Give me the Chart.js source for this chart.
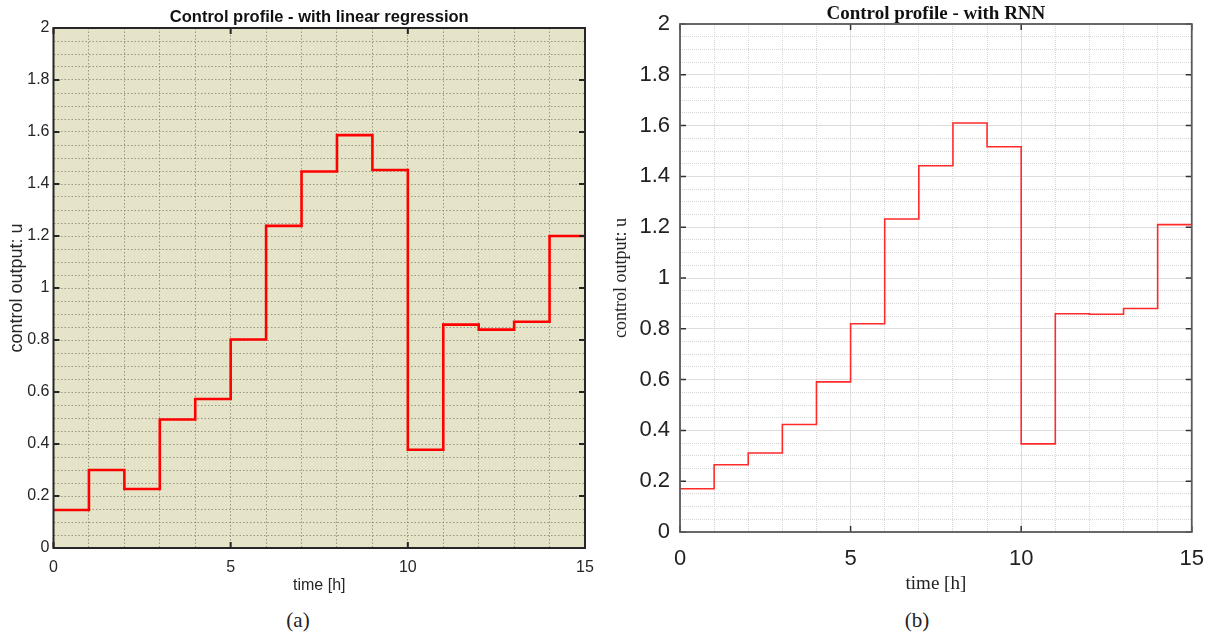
<!DOCTYPE html>
<html><head><meta charset="utf-8">
<script src="https://cdn.jsdelivr.net/npm/chart.js@4.4.1/dist/chart.umd.min.js"></script>
<style>
html,body{margin:0;padding:0;background:#fff;width:1218px;height:633px;overflow:hidden;}
canvas{position:absolute;top:0;}
#c1{left:0;} #c2{left:610px;}
.cap{position:absolute;font-family:'Liberation Serif','Times New Roman',serif;font-size:21px;color:#222;transform:translate(-50%,-50%);white-space:nowrap;}
</style></head><body>
<canvas id="c1" width="608" height="605"></canvas>
<canvas id="c2" width="608" height="605"></canvas>
<div class="cap" style="left:298px;top:620px">(a)</div>
<div class="cap" style="left:917px;top:620px">(b)</div>
<script>
// ---- data ----
const hours = [0,1,2,3,4,5,6,7,8,9,10,11,12,13,14,15];
const uLinearRegression = [0.146,0.300,0.227,0.494,0.573,0.802,1.239,1.448,1.588,1.454,0.378,0.859,0.840,0.870,1.200];
const uRNN = [0.170,0.265,0.311,0.423,0.591,0.820,1.232,1.442,1.610,1.517,0.347,0.859,0.857,0.880,1.210];
const xTickLabels = [0,5,10,15];
const yTickLabels = [0,0.2,0.4,0.6,0.8,1,1.2,1.4,1.6,1.8,2];
const titles = ['Control profile - with linear regression','Control profile - with RNN'];
const xTitle = 'time [h]';
const yTitle = 'control output: u';

function stepData(vals){
  return hours.map((h,i)=>({x:h, y: vals[Math.min(i, vals.length-1)]}));
}
function isIn(arr, v){ return arr.some(a=>Math.abs(a-v)<1e-6); }
function fmt(v){ return String(Math.round(v*10)/10); }

const framePlugin = {
  id:'frame',
  beforeDraw(chart, args, o){
    if(o.bg){
      const a = chart.chartArea, ctx = chart.ctx;
      ctx.save(); ctx.fillStyle = o.bg; ctx.fillRect(a.left,a.top,a.right-a.left,a.bottom-a.top); ctx.restore();
    }
  },
  afterDraw(chart, args, o){
    const a = chart.chartArea, ctx = chart.ctx;
    const xs = chart.scales.x, ys = chart.scales.y;
    ctx.save();
    ctx.strokeStyle = o.tickColor; ctx.lineWidth = o.tickWidth;
    ctx.beginPath();
    yTickLabels.forEach(v=>{
      const y = ys.getPixelForValue(v);
      ctx.moveTo(a.left, y); ctx.lineTo(a.left+o.tickLen, y);
      ctx.moveTo(a.right, y); ctx.lineTo(a.right-o.tickLen, y);
    });
    xTickLabels.forEach(v=>{
      const x = xs.getPixelForValue(v);
      ctx.moveTo(x, a.bottom); ctx.lineTo(x, a.bottom-o.tickLen);
      ctx.moveTo(x, a.top); ctx.lineTo(x, a.top+o.tickLen);
    });
    ctx.stroke();
    ctx.strokeStyle = o.frameColor; ctx.lineWidth = o.frameWidth;
    ctx.strokeRect(a.left, a.top, a.right-a.left, a.bottom-a.top);
    ctx.fillStyle = o.titleColor; ctx.font = o.titleFont;
    ctx.textAlign = 'center'; ctx.textBaseline = 'middle';
    ctx.fillText(o.title, (a.left+a.right)/2, o.titleY);
    ctx.restore();
  }
};

function makeChart(id, vals, s){
  return new Chart(document.getElementById(id), {
    type:'line',
    data:{ datasets:[{ data: stepData(vals), stepped:'before', borderColor:s.lineColor, borderWidth:s.lineWidth, pointRadius:0, fill:false, tension:0 }]},
    options:{
      responsive:false, animation:false, devicePixelRatio:1,
      layout:{ padding:s.pad },
      plugins:{ legend:{display:false}, tooltip:{enabled:false}, frame:s.frame },
      scales:{
        x:{ type:'linear', min:0, max:15,
            afterFit(sc){ sc.height = s.xHeight; },
            ticks:{ stepSize:1, autoSkip:false, maxRotation:0, padding:s.xTickPad, color:s.tickColor, font:s.tickFont,
                    callback:(v)=> isIn(xTickLabels, v) ? fmt(v) : '' },
            grid:{ drawTicks:false, lineWidth:1, color:(c)=> s.gridColor(c, xTickLabels) },
            border:{ display:false, dash:(c)=> s.gridDash(c, xTickLabels) },
            title:{ display:true, text:xTitle, color:s.tickColor, font:s.xTitleFont, padding:{top:0,bottom:s.xTitlePadB} } },
        y:{ type:'linear', min:0, max:2,
            afterFit(sc){ sc.width = s.yWidth; },
            ticks:{ stepSize:0.05, autoSkip:false, padding:s.yTickPad, color:s.tickColor, font:s.tickFont,
                    callback:(v)=> isIn(yTickLabels, v) ? fmt(v) : '' },
            grid:{ drawTicks:false, lineWidth:1, color:(c)=> s.gridColor(c, yTickLabels) },
            border:{ display:false, dash:(c)=> s.gridDash(c, yTickLabels) },
            title:{ display:true, text:yTitle, color:s.tickColor, font:s.yTitleFont, padding:{top:s.yTitlePadT,bottom:0} } }
      }
    },
    plugins:[framePlugin]
  });
}

const sans = "'Liberation Sans', Arial, sans-serif";
const serif = "'Liberation Serif', 'Times New Roman', serif";

makeChart('c1', uLinearRegression, {
  lineColor:'#ff0000', lineWidth:2.6,
  pad:{left:0,right:23,top:28,bottom:0}, xHeight:57, yWidth:53.5,
  xTickPad:10, yTickPad:4, tickColor:'#262626', tickFont:{family:sans,size:16},
  xTitleFont:{family:sans,size:16}, xTitlePadB:10, yTitleFont:{family:sans,size:18}, yTitlePadT:6,
  gridColor:()=> 'rgba(125,125,110,0.75)',
  gridDash:()=> [1.5,2],
  frame:{ bg:'#e5e3c8', tickColor:'#262626', tickWidth:2, tickLen:6, frameColor:'#262626', frameWidth:2,
          title:titles[0], titleFont:"bold 16.5px "+sans, titleColor:'#111', titleY:17 }
});

makeChart('c2', uRNN, {
  lineColor:'#ff2a2a', lineWidth:1.6,
  pad:{left:0,right:24,top:24,bottom:0}, xHeight:73, yWidth:70,
  xTickPad:14, yTickPad:10, tickColor:'#222', tickFont:{family:sans,size:22},
  xTitleFont:{family:serif,size:19}, xTitlePadB:10, yTitleFont:{family:serif,size:18}, yTitlePadT:0,
  gridColor:(c, majors)=> (c.tick && isIn(majors, c.tick.value)) ? '#dedede' : '#d6d6d6',
  gridDash:(c, majors)=> (c.tick && isIn(majors, c.tick.value)) ? [] : [1,1],
  frame:{ bg:null, tickColor:'#333', tickWidth:1.5, tickLen:6, frameColor:'#5a5a5a', frameWidth:1.8,
          title:titles[1], titleFont:"bold 19px "+serif, titleColor:'#111', titleY:14 }
});
</script>
</body></html>
